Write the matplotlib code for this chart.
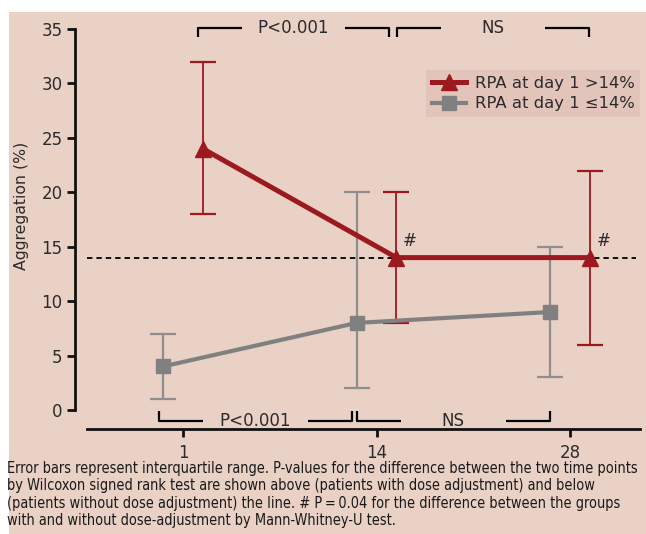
import matplotlib.pyplot as plt
from matplotlib.patches import Rectangle
from matplotlib import font_manager

days = ["1", "14", "28"]
high_median = [24, 14, 14]
high_q1 = [18, 8, 6]
high_q3 = [32, 20, 22]
low_median = [4, 8, 9]
low_q1 = [1, 2, 3]
low_q3 = [7, 20, 15]
high_label = "RPA at day 1 >14%"
low_label = "RPA at day 1 \u226414%"
top_tests = ["P<0.001", "NS"]
bottom_tests = ["P<0.001", "NS"]
threshold = 14
caption = ("Error bars represent interquartile range. P-values for the difference between the two time points\n"
           "by Wilcoxon signed rank test are shown above (patients with dose adjustment) and below\n"
           "(patients without dose adjustment) the line. # P\u2009=\u20090.04 for the difference between the groups\n"
           "with and without dose-adjustment by Mann-Whitney-U test.")

bg = "#EAD1C6"
red = "#9C1A1F"
grey = "#808080"
ink = "#2b2b2b"

W, H = 646, 534
fig = plt.figure(figsize=(W / 100, H / 100), dpi=100, facecolor="white")
fig.patches.append(Rectangle((9 / W, 0), 1 - 9 / W, 1 - 12 / H, transform=fig.transFigure,
                             facecolor=bg, edgecolor="none", zorder=-10))

ax = fig.add_axes([75 / W, (H - 429) / H, (640 - 75) / W, (429 - 24) / H])
ax.set_facecolor("none")

x = list(range(len(days)))
off = 0.103
xr = [v + off for v in x]
xg = [v - off for v in x]

# error bars
ax.errorbar(xr, high_median,
            yerr=[[m - q for m, q in zip(high_median, high_q1)], [q - m for m, q in zip(high_median, high_q3)]],
            fmt="none", ecolor=red, elinewidth=1.3, capsize=9.5, capthick=1.6, zorder=3)
ax.errorbar(xg, low_median,
            yerr=[[m - q for m, q in zip(low_median, low_q1)], [q - m for m, q in zip(low_median, low_q3)]],
            fmt="none", ecolor="#8E8E8E", elinewidth=1.6, capsize=9.5, capthick=1.6, zorder=2)

ax.plot(xr, high_median, color=red, lw=3.6, marker="^", ms=12, label=high_label, zorder=5)
ax.plot(xg, low_median, color=grey, lw=3.0, marker="s", ms=9.5, label=low_label, zorder=4)

# threshold line
ax.plot([-0.496, 2.34], [threshold, threshold], color="black", lw=1.3, ls=(0, (3, 2.2)), zorder=1)

for i in [1, 2]:
    ax.text(xr[i] + 0.035, 15.5, "#", color=ink, fontsize=12, ha="left", va="center", zorder=6)

# brackets above (with dose adjustment) and below (without)
def bracket(x0, x1, y, tip, label):
    seg = 0.23 * (x1 - x0)
    kw = dict(color="black", lw=1.6, solid_capstyle="butt", clip_on=False)
    ax.plot([x0, x0, x0 + seg], [tip, y, y], **kw)
    ax.plot([x1 - seg, x1, x1], [y, y, tip], **kw)
    ax.text((x0 + x1) / 2, y, label, ha="center", va="center", fontsize=12, color=ink, clip_on=False)

top_pad = [(-0.025, -0.038), (0.003, -0.005)]
bottom_pad = [(-0.022, -0.024), (0.0, 0.0)]
for i, lab in enumerate(top_tests):
    bracket(xr[i] + top_pad[i][0], xr[i + 1] + top_pad[i][1], 35.1, 34.25, lab)
for i, lab in enumerate(bottom_tests):
    bracket(xg[i] + bottom_pad[i][0], xg[i + 1] + bottom_pad[i][1], -0.98, -0.06, lab)

ax.set_xlim((75 - 183) / 193.5, (640 - 183) / 193.5)
ax.set_ylim(-1.745, 35.46)

for s in ["top", "right"]:
    ax.spines[s].set_visible(False)
ax.spines["left"].set_bounds(0, 35)
ax.spines["bottom"].set_bounds(-0.496, 2.36)
for s in ["left", "bottom"]:
    ax.spines[s].set_linewidth(2.0)
    ax.spines[s].set_color("#111111")

ax.set_xticks(x)
ax.set_xticklabels(days)
ax.set_yticks(range(0, 36, 5))
ax.tick_params(axis="both", colors="#111111", labelcolor=ink, labelsize=12, width=2.0)
ax.tick_params(axis="y", length=6, pad=3)
ax.tick_params(axis="x", length=6, pad=5)

fig.text(22 / W, 1 - 206 / H, "Aggregation (%)", rotation=90, ha="center", va="center",
         fontsize=11.3, color=ink)

leg = ax.legend(loc="upper right", bbox_to_anchor=(1.0, (429 - 70) / 405), frameon=True,
                fontsize=11.8, handlelength=2.1, handletextpad=0.5, borderpad=0.35,
                labelspacing=0.35, borderaxespad=0.0, fancybox=False)
leg.get_frame().set_facecolor("#E3C4BA")
leg.get_frame().set_edgecolor("none")
leg.get_frame().set_alpha(1)
for t in leg.get_texts():
    t.set_color(ink)

# caption in a condensed face if one is installed
narrow = [f.name for f in font_manager.fontManager.ttflist
          if "Narrow" in f.name or "Condensed" in f.name or f.stretch in ("condensed", "semi-condensed")]
cap_font = font_manager.FontProperties(family=(narrow[:1] or ["DejaVu Sans"]) + ["DejaVu Sans"],
                                       stretch="condensed", size=11.2)
cap = fig.text(7 / W, 1 - 461 / H, caption, ha="left", va="top", color="#1a1a1a",
               linespacing=1.2, fontproperties=cap_font)
fig.canvas.draw()
bb = cap.get_window_extent()
if bb.width > 632:
    cap.set_fontsize(11.2 * 632 / bb.width)

fig.savefig("out.png", dpi=100, facecolor=fig.get_facecolor())
